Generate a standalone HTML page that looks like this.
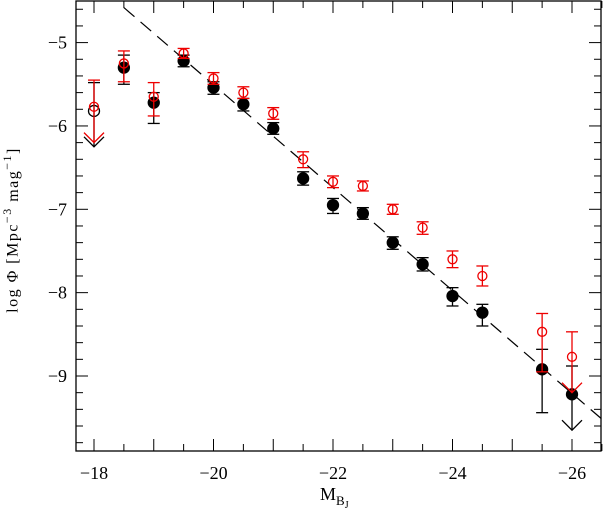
<!DOCTYPE html>
<html><head><meta charset="utf-8"><style>
body{margin:0;background:#fff}
svg{font-family:"Liberation Serif",serif}
</style></head><body>
<svg id="c" width="603" height="511" xmlns="http://www.w3.org/2000/svg">
<rect x="76" y="1" width="525" height="450" fill="none" stroke="#000" stroke-width="1.3"/>
<g id="axes"></g><g id="marks"></g>
<text x="14" y="230" transform="rotate(-90 14 230)" font-size="16" letter-spacing="1.5" text-anchor="middle" dominant-baseline="middle">log Φ  [Mpc<tspan dy="-6" font-size="12">−3</tspan><tspan dy="6">  mag</tspan><tspan dy="-6" font-size="12">−1</tspan><tspan dy="6">]</tspan></text>
<text x="320" y="500" font-size="18">M<tspan dy="5" font-size="13">B</tspan><tspan dy="3" font-size="10">J</tspan></text>
</svg>
<script>
const xs=[-18,-18.5,-19,-19.5,-20,-20.5,-21,-21.5,-22,-22.5,-23,-23.5,-24,-24.5,-25.5,-26];
const blackVals=[-5.82,-5.3,-5.72,-5.22,-5.54,-5.74,-6.03,-6.63,-6.95,-7.05,-7.4,-7.66,-8.04,-8.24,-8.92,-9.22];
const blackLo=[-5.48,-5.15,-5.6,-5.15,-5.47,-5.67,-5.96,-6.55,-6.87,-6.98,-7.33,-7.58,-7.94,-8.14,-8.68,-8.88];
const blackHi=[-6.25,-5.5,-5.97,-5.29,-5.62,-5.82,-6.1,-6.71,-7.05,-7.12,-7.48,-7.74,-8.16,-8.4,-9.44,-9.65];
const redVals=[-5.77,-5.25,-5.65,-5.13,-5.43,-5.6,-5.85,-6.4,-6.67,-6.72,-7.0,-7.22,-7.6,-7.8,-8.47,-8.77];
const redLo=[-5.45,-5.1,-5.48,-5.07,-5.36,-5.53,-5.78,-6.31,-6.6,-6.66,-6.94,-7.15,-7.5,-7.68,-8.25,-8.47];
const redHi=[-6.2,-5.47,-5.88,-5.19,-5.5,-5.67,-5.92,-6.5,-6.74,-6.78,-7.06,-7.3,-7.7,-7.92,-8.95,-9.2];
const blackLimit=[true,false,false,false,false,false,false,false,false,false,false,false,false,false,false,true];
const redLimit=[true,false,false,false,false,false,false,false,false,false,false,false,false,false,false,true];
const xTicks=[-18,-20,-22,-24,-26];
const yTicks=[-5,-6,-7,-8,-9];
const fitLine=[[-18.5,-4.58],[-26.78,-9.69]];
const X=v=>94+(-v-18)*59.75;
const Y=v=>42.6+(-v-5)*83.35;
const NS="http://www.w3.org/2000/svg";
function mk(p,t,a){const e=document.createElementNS(NS,t);for(const k in a)e.setAttribute(k,a[k]);p.appendChild(e);return e;}
const ax=document.getElementById('axes'),mg=document.getElementById('marks');
for(let v=-18;v>=-26.5;v-=0.5){const x=X(v),L=(v%1===0)?12:7;
const t1=mk(ax,'line',{x1:x,x2:x,y1:451,y2:451-L,stroke:'#000'});

const t2=mk(ax,'line',{x1:x,x2:x,y1:1,y2:1+L,stroke:'#000'});
}
for(let i=0;i<=27;i++){const v=-4.6-i*0.2;const y=Y(v);if(y<2||y>450)continue;const maj=Math.abs(v-Math.round(v))<0.01;const L=maj?12:7;
const t1=mk(ax,'line',{x1:76,x2:76+L,y1:y,y2:y,stroke:'#000'});

const t2=mk(ax,'line',{x1:601,x2:601-L,y1:y,y2:y,stroke:'#000'});
}
xTicks.forEach(v=>{const t=mk(ax,'text',{x:X(v),y:479,'font-size':18,'text-anchor':'middle'});t.textContent='−'+(-v);
});
yTicks.forEach(v=>{const t=mk(ax,'text',{x:67,y:Y(v)+6,'font-size':18,'text-anchor':'end'});t.textContent='−'+(-v);
});
const fl=mk(mg,'line',{x1:X(fitLine[0][0]),y1:Y(fitLine[0][1]),x2:X(fitLine[1][0]),y2:Y(fitLine[1][1]),stroke:'#000','stroke-width':1.2,'stroke-dasharray':'14,8'});

function series(vals,lo,hi,lim,col,filled,name){
xs.forEach((xv,i)=>{const x=X(xv),g=mk(mg,'g',{stroke:col,fill:'none','stroke-width':1.3});

mk(g,'line',{x1:x,x2:x,y1:Y(lo[i]),y2:Y(hi[i])});
mk(g,'line',{x1:x-6,x2:x+6,y1:Y(lo[i]),y2:Y(lo[i])});
if(lim[i]){const yb=Y(hi[i]);mk(g,'polyline',{points:`${x-10},${yb-10} ${x},${yb} ${x+10},${yb-10}`});}
else mk(g,'line',{x1:x-6,x2:x+6,y1:Y(hi[i]),y2:Y(hi[i])});
const open=!filled||(lim[i]&&i===0);
mk(g,'circle',{cx:x,cy:Y(vals[i]),r:filled?5.5:4.5,fill:open?'none':col});});}
series(blackVals,blackLo,blackHi,blackLimit,'#000',true,'black-series');
series(redVals,redLo,redHi,redLimit,'#e00',false,'red-series');
</script>
</body></html>
